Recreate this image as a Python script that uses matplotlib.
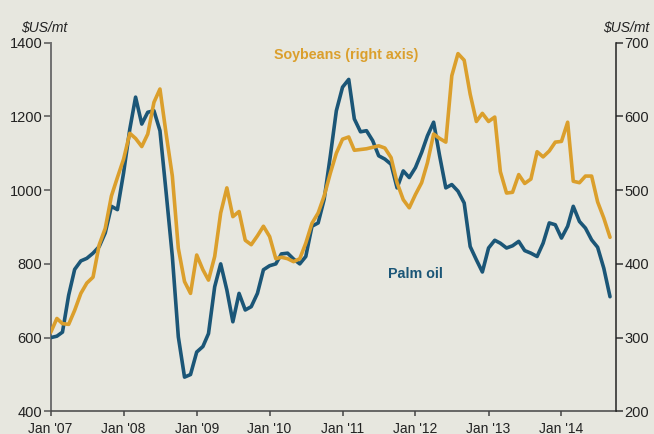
#!/usr/bin/env python3
"""Palm oil vs soybean prices, monthly, $US/mt (soybeans on right axis)."""

from __future__ import annotations

import matplotlib

matplotlib.use("Agg")

import matplotlib.pyplot as plt
import pandas as pd

START_MONTH = "2007-01-01"
END_LIMIT = "2014-10-01"

# palm oil, $US/mt (left axis), monthly from Jan 2007
palm_oil = [
    600, 604, 615, 715, 785, 808, 815, 829, 847, 884,
    956, 947, 1047, 1165, 1252, 1179, 1211, 1215, 1161, 993,
    820, 602, 493, 500, 561, 576, 611, 738, 800, 729,
    643, 720, 675, 684, 720, 784, 795, 800, 827, 829,
    813, 800, 820, 902, 911, 975, 1093, 1215, 1279, 1300,
    1193, 1158, 1161, 1134, 1093, 1084, 1070, 1006, 1052, 1034,
    1061, 1102, 1147, 1184, 1093, 1006, 1015, 997, 965, 847,
    811, 778, 843, 864, 856, 843, 849, 861, 836, 829,
    820, 856, 911, 906, 870, 902, 956, 915, 897, 865,
    845, 788, 711,
]

# soybeans, $US/mt (right axis), monthly from Jan 2007
soybeans = [
    307, 326, 319, 318, 337, 360, 374, 382, 426, 448,
    492, 517, 542, 577, 570, 559, 576, 619, 637, 576,
    519, 421, 376, 360, 412, 392, 378, 410, 469, 503,
    464, 471, 432, 426, 438, 451, 437, 407, 409, 407,
    403, 407, 428, 455, 469, 492, 523, 550, 569, 572,
    554, 555, 556, 558, 560, 557, 544, 510, 487, 476,
    494, 510, 537, 576, 570, 565, 655, 685, 676, 630,
    593, 604, 593, 599, 525, 496, 497, 521, 509, 515,
    552, 545, 553, 565, 566, 592, 512, 510, 519, 519,
    484, 462, 436,
]

tick_years = [2007, 2008, 2009, 2010, 2011, 2012, 2013, 2014]
tick_labels = ["Jan '07", "Jan '08", "Jan '09", "Jan '10",
               "Jan '11", "Jan '12", "Jan '13", "Jan '14"]
left_ticks = [400, 600, 800, 1000, 1200, 1400]
right_ticks = [200, 300, 400, 500, 600, 700]

BG = "#e7e7df"
BLUE = "#1b5677"
ORANGE = "#db9f2c"
TEXT = "#222222"

plt.rcParams["font.family"] = ["Liberation Sans", "DejaVu Sans"]


def main() -> int:
    months = pd.date_range(START_MONTH, periods=len(palm_oil), freq="MS")

    fig = plt.figure(figsize=(6.54, 4.34), dpi=100, facecolor=BG)
    ax = fig.add_axes([0.0775, 0.052, 0.8644, 0.850])
    ax2 = ax.twinx()
    ax.set_facecolor(BG)
    ax2.patch.set_visible(False)

    line_kw = dict(lw=2.6, solid_capstyle="round", solid_joinstyle="round", zorder=3)
    ax.plot(months, palm_oil, color=BLUE, **line_kw)
    ax2.plot(months, soybeans, color=ORANGE, **line_kw)

    ax.set_xlim(pd.Timestamp(START_MONTH), pd.Timestamp(END_LIMIT))
    ax.set_ylim(400, 1400)
    ax2.set_ylim(200, 700)

    ax.set_yticks(left_ticks)
    ax2.set_yticks(right_ticks)
    ax.set_xticks([pd.Timestamp(f"{y}-01-01") for y in tick_years])
    ax.set_xticklabels(tick_labels)

    for a in (ax, ax2):
        a.spines["top"].set_visible(False)
    ax.spines["right"].set_visible(False)
    ax2.spines["left"].set_visible(False)
    ax2.spines["bottom"].set_visible(False)
    ax.spines["left"].set_color("#707070")
    ax.spines["left"].set_linewidth(1.4)
    ax.spines["bottom"].set_color("#444444")
    ax.spines["bottom"].set_linewidth(1.1)
    ax2.spines["right"].set_color("#222222")
    ax2.spines["right"].set_linewidth(1.1)

    ax.tick_params(axis="y", direction="out", length=5, width=1.1,
                   colors="#555555", labelcolor=TEXT, labelsize=10.5, pad=1)
    ax2.tick_params(axis="y", direction="out", length=5, width=1.1,
                    colors="#333333", labelcolor=TEXT, labelsize=10.5, pad=1)
    ax.tick_params(axis="x", direction="out", length=3.5, width=1.1,
                   colors="#444444", labelcolor=TEXT, labelsize=10, pad=4)

    fig.text(0.068, 0.935, "$US/mt", fontsize=10, style="italic",
             color=TEXT, ha="center", va="center")
    fig.text(0.958, 0.935, "$US/mt", fontsize=10, style="italic",
             color=TEXT, ha="center", va="center")

    fig.text(346 / 654, 1 - 55 / 434, "Soybeans (right axis)", fontsize=10.3,
             fontweight="bold", color=ORANGE, ha="center", va="center")
    fig.text(415 / 654, 1 - 274 / 434, "Palm oil", fontsize=10.3,
             fontweight="bold", color=BLUE, ha="center", va="center")

    fig.savefig("out.png", dpi=100, facecolor=BG)
    return 0


if __name__ == "__main__":
    raise SystemExit(main())
